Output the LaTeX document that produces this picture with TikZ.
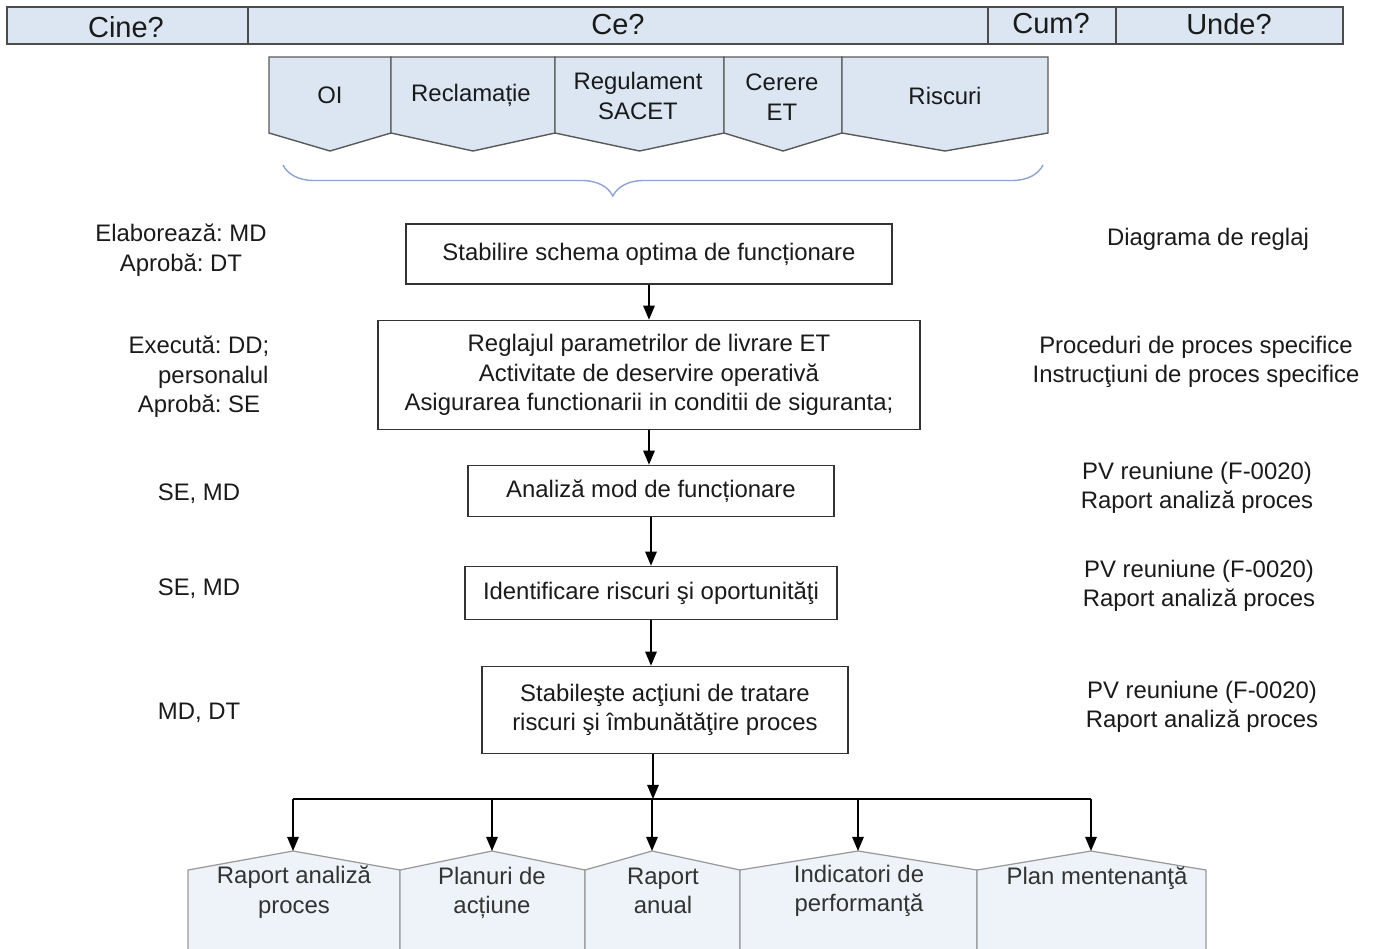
\documentclass[tikz,border=0pt]{standalone}
\usepackage{fontspec}
\setmainfont{Liberation Sans}
\frenchspacing
\usetikzlibrary{arrows.meta,decorations.pathreplacing,positioning}
\definecolor{hdrblue}{HTML}{DCE6F2}
\definecolor{inblue}{HTML}{DCE6F3}
\definecolor{outblue}{HTML}{EDF3F8}
\definecolor{bracecol}{HTML}{8DA3D4}
\definecolor{ink}{HTML}{1A1A1A}
\tikzstyle{flow}=[
  x=0.02cm,y=-0.02cm,>={Triangle[length=8pt,width=6.5pt]},
  font=\fontsize{13.6}{16.8}\selectfont,text=ink
]
\tikzstyle{box}=[
  draw=black!80,line width=0.9pt,align=center,inner sep=0pt
]
\tikzstyle{hdr}=[
  fill=hdrblue,draw=black!70,line width=0.9pt
]
\tikzstyle{inshape}=[
  fill=inblue,draw=black!65,line width=0.8pt
]
\tikzstyle{outshape}=[
  fill=outblue,draw=black!40,line width=0.7pt
]
\tikzstyle{lbl}=[align=center,inner sep=0pt]

\begin{document}
\begin{tikzpicture}[flow]
    \useasboundingbox (0,0) rectangle (1374,948);
    % header
    \draw[hdr] (7,7) rectangle (1343,44);
    \draw[hdr] (248,7) -- (248,44) (988,7) -- (988,44) (1116,7) -- (1116,44);
    \node[lbl,font=\fontsize{16.5}{19}\selectfont] (cine) at (126,27) {Cine?};
    \node[lbl,font=\fontsize{16.5}{19}\selectfont] (ce)   at (618,25) {Ce?};
    \node[lbl,font=\fontsize{16.5}{19}\selectfont] (cum)  at (1051,24) {Cum?};
    \node[lbl,font=\fontsize{16.5}{19}\selectfont] (unde) at (1229,24) {Unde?};
    % inputs
    \foreach \xa/\xb in {269/391,391/555,555/724,724/842,842/1048}
      \draw[inshape] (\xa,57) -- (\xb,57) -- (\xb,133) -- ({(\xa+\xb)/2},151) -- (\xa,133) -- cycle;
    \node[lbl] (oi)    at (330,95) {OI};
    \node[lbl] (recl)  at (471,95) {Reclamație};
    \node[lbl] (reg)   at (638,96) {Regulament\\SACET};
    \node[lbl] (cerer) at (782,97) {Cerere\\ET};
    \node[lbl] (risc)  at (945,96) {Riscuri};
    \draw[bracecol,line width=0.8pt,decorate,decoration={brace,mirror,amplitude=0.62cm,aspect=0.434}]
      (283,165) -- (1043,165);
    % process steps
    \node[box,minimum width=9.72cm,minimum height=1.2cm] (s1) at (649,254)
      {Stabilire schema optima de funcționare};
    \node[box,minimum width=10.84cm,minimum height=2.18cm] (s2) at (649,375)
      {Reglajul parametrilor de livrare ET\\Activitate de deservire operativă\\Asigurarea functionarii in conditii de siguranta;};
    \node[box,minimum width=7.32cm,minimum height=1.02cm] (s3) at (651,491)
      {Analiză mod de funcționare};
    \node[box,minimum width=7.44cm,minimum height=1.06cm] (s4) at (651,593)
      {Identificare riscuri şi oportunităţi};
    \node[box,minimum width=7.32cm,minimum height=1.74cm] (s5) at (665,710)
      {Stabileşte acţiuni de tratare\\riscuri şi îmbunătăţire proces};
    \draw[->,line width=0.9pt] (s1) -- (s2);
    \draw[->,line width=0.9pt] (s2) -- (s2.south |- s3.north);
    \draw[->,line width=0.9pt] (s3) -- (s4);
    \draw[->,line width=0.9pt] (s4.south) -- (s4.south |- s5.north);
    % who
    \node[lbl] (w1) at (181,250) {Elaborează: MD\\Aprobă: DT};
    \node[lbl] (w2) at (199,377) {Execută: DD;\\\hspace*{1.2em}personalul\\Aprobă: SE};
    \node[lbl] (w3) at (199,494) {SE, MD};
    \node[lbl] (w4) at (199,589) {SE, MD};
    \node[lbl] (w5) at (199,713) {MD, DT};
    % where
    \node[lbl] (d1) at (1208,239) {Diagrama de reglaj};
    \node[lbl] (d2) at (1196,362) {Proceduri de proces specifice\\Instrucţiuni de proces specifice};
    \node[lbl] (d3) at (1197,488) {PV reuniune (F-0020)\\Raport analiză proces};
    \node[lbl] (d4) at (1199,586) {PV reuniune (F-0020)\\Raport analiză proces};
    \node[lbl] (d5) at (1202,707) {PV reuniune (F-0020)\\Raport analiză proces};
    % outputs
    \foreach \xa/\xb/\xm/\n in {188/400/293/1,400/585/492/2,585/740/652/3,740/977/858/4,977/1206/1091/5}{
      \draw[outshape] (\xa,949) -- (\xa,870) -- (\xm,851) -- (\xb,870) -- (\xb,949);
      \coordinate (t\n) at (\xm,851);
    }
    \node[lbl,text=black!80] (o1) at (294,892) {Raport analiză\\proces};
    \node[lbl,text=black!80] (o2) at (492,893) {Planuri de\\acțiune};
    \node[lbl,text=black!80] (o3) at (663,891) {Raport\\anual};
    \node[lbl,text=black!80] (o4) at (859,891) {Indicatori de\\performanţă};
    \node[lbl,text=black!80] (o5) at (1097,878) {Plan mentenanţă};
    % distribution
    \coordinate (bus) at (653,799);
    \draw[->,line width=0.9pt] (bus |- s5.south) -- (bus);
    \draw[line width=0.9pt] (t1 |- bus) -- (t5 |- bus);
    \foreach \n in {1,...,5}
      \draw[->,line width=0.9pt] (t\n |- bus) -- (t\n);
\end{tikzpicture}
\end{document}
